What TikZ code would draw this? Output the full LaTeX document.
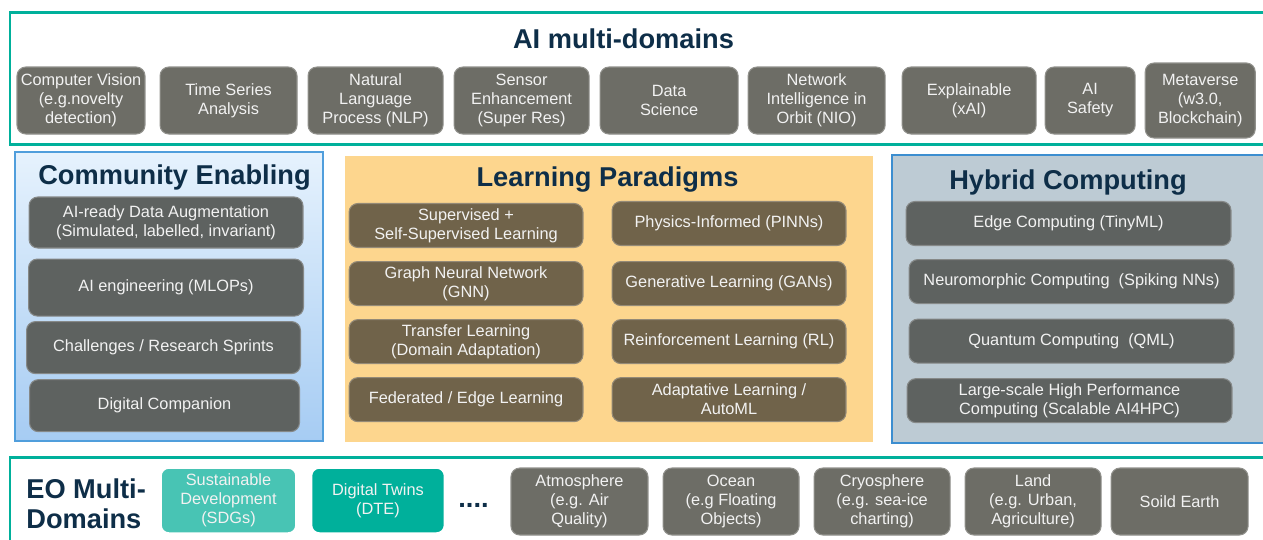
\documentclass[tikz,border=0pt]{standalone}
\usepackage{fontspec}
\setmainfont{Liberation Sans}
\usepackage{xcolor}
\usepackage{tikz}
\usetikzlibrary{positioning}
\usetikzlibrary{shadows}

\definecolor{eoteal}{RGB}{0,176,155}
\definecolor{sdgteal}{RGB}{72,196,180}
\definecolor{navy}{RGB}{14,46,72}
\definecolor{warmgray}{RGB}{109,109,102}
\definecolor{slategray}{RGB}{94,98,96}
\definecolor{umber}{RGB}{112,99,74}
\definecolor{paleorange}{RGB}{253,214,142}
\definecolor{skytop}{RGB}{230,242,253}
\definecolor{skybottom}{RGB}{166,204,243}
\definecolor{skyline}{RGB}{80,158,220}
\definecolor{steel}{RGB}{189,203,212}
\definecolor{steelline}{RGB}{60,142,208}
\definecolor{boxtext}{RGB}{242,242,242}

\newcommand{\headfont}{\fontsize{15.5}{17}\selectfont\bfseries}
\newcommand{\itemfont}{\fontsize{9.3}{10.8}\selectfont}

\begin{document}
\begin{tikzpicture}[x=0.02cm, y=-0.02cm,
		tealframe/.style={draw=eoteal, line width=1.7pt},
		head/.style={font=\headfont, text=navy, anchor=base, inner sep=0pt},
		item/.style={rounded corners=5pt, align=center, font=\itemfont,
			text=boxtext, inner sep=1pt, line width=0.6pt},
		areabox/.style={item, fill=warmgray, draw=warmgray!75!white,
			minimum height=1.34cm},
		enabler/.style={item, fill=slategray, draw=slategray!75!white},
		paradigm/.style={item, fill=umber, draw=umber!75!white,
			minimum width=4.68cm, minimum height=0.88cm},
		compute/.style={item, fill=slategray, draw=slategray!75!white,
			minimum width=6.5cm, minimum height=0.88cm},
		twin/.style={item, draw=white, line width=2pt, minimum height=1.34cm,
			drop shadow={opacity=0.25, shadow xshift=0.4pt, shadow yshift=-0.6pt}}]
		\useasboundingbox (0,0) rectangle (1263,539);
		\clip (0,0) rectangle (1263,539);
		\fill [white] (0,0) rectangle (1263,539);

		\draw [tealframe] (1270,12) -- (10,12) -- (10,144) -- (1270,144);
		\node [head] (aititle) at (623.5,48) {AI multi-domains};
		\node [areabox, minimum width=2.56cm] (vision) at (81,100.5)
			{Computer Vision\\(e.g.novelty\\detection)};
		\node [areabox, minimum width=2.74cm, right=0.28cm of vision] (series)
			{Time Series\\Analysis};
		\node [areabox, minimum width=2.70cm, right=0.20cm of series] (nlp)
			{Natural\\Language\\Process (NLP)};
		\node [areabox, minimum width=2.70cm, right=0.20cm of nlp] (sensor)
			{Sensor\\Enhancement\\(Super Res)};
		\node [areabox, minimum width=2.76cm, right=0.20cm of sensor] (datasci)
			{Data\\Science};
		\node [areabox, minimum width=2.74cm, right=0.18cm of datasci] (nio)
			{Network\\Intelligence in\\Orbit (NIO)};
		\node [areabox, minimum width=2.68cm, right=0.32cm of nio] (xai)
			{Explainable\\(xAI)};
		\node [areabox, minimum width=1.80cm, right=0.16cm of xai] (safety)
			{AI\\Safety};
		\node [areabox, minimum width=2.20cm, minimum height=1.5cm,
			right=0.18cm of safety] (meta) {Metaverse\\(w3.0,\\Blockchain)};

		\node [draw=skyline, line width=0.8pt, top color=skytop,
			bottom color=skybottom, minimum width=6.16cm,
			minimum height=5.78cm] (cepanel) at (169,296.5) {};
		\node [fill=paleorange, draw=white, line width=2.2pt,
			minimum width=10.64cm, minimum height=5.8cm,
			drop shadow={opacity=0.3, shadow xshift=0.6pt, shadow yshift=-0.8pt}]
			(lppanel) at (609,299) {};
		\node [fill=steel, draw=steelline, line width=0.8pt,
			minimum width=7.96cm, minimum height=5.76cm] (hcpanel) at (1091,299) {};

		\node [head] (cetitle) at (174.5,184) {Community Enabling};
		\node [head] (lptitle) at (607.5,186) {Learning Paradigms};
		\node [head] (hctitle) at (1068,189) {Hybrid Computing};

		\node [enabler, minimum width=5.48cm, minimum height=1.02cm]
			(augment) at (166,222.5)
			{AI-ready Data Augmentation\\(Simulated, labelled, invariant)};
		\node [enabler, minimum width=5.5cm, minimum height=1.14cm,
			below=0.2cm of augment] (mlops) {AI engineering (MLOPs)};
		\node [enabler, minimum width=5.48cm, minimum height=1.04cm,
			below=0.09cm of mlops, xshift=-0.05cm] (sprints)
			{Challenges / Research Sprints};
		\node [enabler, minimum width=5.4cm, minimum height=1.04cm,
			below=0.1cm of sprints, xshift=0.02cm] (companion) {Digital Companion};

		\node [paradigm] (supervised) at (466,225.5)
			{Supervised +\\Self-Supervised Learning};
		\node [paradigm, below=0.26cm of supervised] (gnn)
			{Graph Neural Network\\(GNN)};
		\node [paradigm, below=0.26cm of gnn] (transfer)
			{Transfer Learning\\(Domain Adaptation)};
		\node [paradigm, below=0.26cm of transfer] (federated)
			{Federated / Edge Learning};
		\node [paradigm, right=0.56cm of supervised, yshift=0.04cm] (pinn)
			{Physics-Informed (PINNs)};
		\node [paradigm, right=0.56cm of gnn] (gan) {Generative Learning (GANs)};
		\node [paradigm, right=0.56cm of transfer] (rl)
			{Reinforcement Learning (RL)};
		\node [paradigm, right=0.56cm of federated] (automl)
			{Adaptative Learning /\\AutoML};

		\node [compute] (edgecomp) at (1068.5,223.5) {Edge Computing (TinyML)};
		\node [compute, below=0.26cm of edgecomp, xshift=0.06cm] (neuro)
			{Neuromorphic Computing\ \ (Spiking NNs)};
		\node [compute, below=0.29cm of neuro] (quantum)
			{Quantum Computing\ \ (QML)};
		\node [compute, below=0.29cm of quantum, xshift=-0.04cm] (hpc)
			{Large-scale High Performance\\Computing (Scalable AI4HPC)};

		\draw [tealframe] (1270,457) -- (10,457) -- (10,545);
		\node [head, anchor=west, align=left] (eotitle) at (26,504)
			{EO Multi-\\Domains};
		\node [twin, fill=sdgteal, minimum width=2.74cm] (sdg) at (228.5,500.5)
			{Sustainable\\Development\\(SDGs)};
		\node [twin, fill=eoteal, minimum width=2.70cm, right=0.2cm of sdg] (dte)
			{Digital Twins\\(DTE)};
		\node [head] (ellipsis) at (473.5,507) {....};
		\node [areabox, minimum width=2.74cm] (atmosphere) at (579.5,501.5)
			{Atmosphere\\(e.g. Air\\Quality)};
		\node [areabox, minimum width=2.72cm, right=0.28cm of atmosphere] (ocean)
			{Ocean\\(e.g Floating\\Objects)};
		\node [areabox, minimum width=2.72cm, right=0.28cm of ocean] (cryosphere)
			{Cryosphere\\(e.g. sea-ice\\charting)};
		\node [areabox, minimum width=2.72cm, right=0.28cm of cryosphere] (land)
			{Land\\(e.g. Urban,\\Agriculture)};
		\node [areabox, minimum width=2.74cm, right=0.18cm of land] (earth)
			{Soild Earth};
	\end{tikzpicture}
\end{document}
